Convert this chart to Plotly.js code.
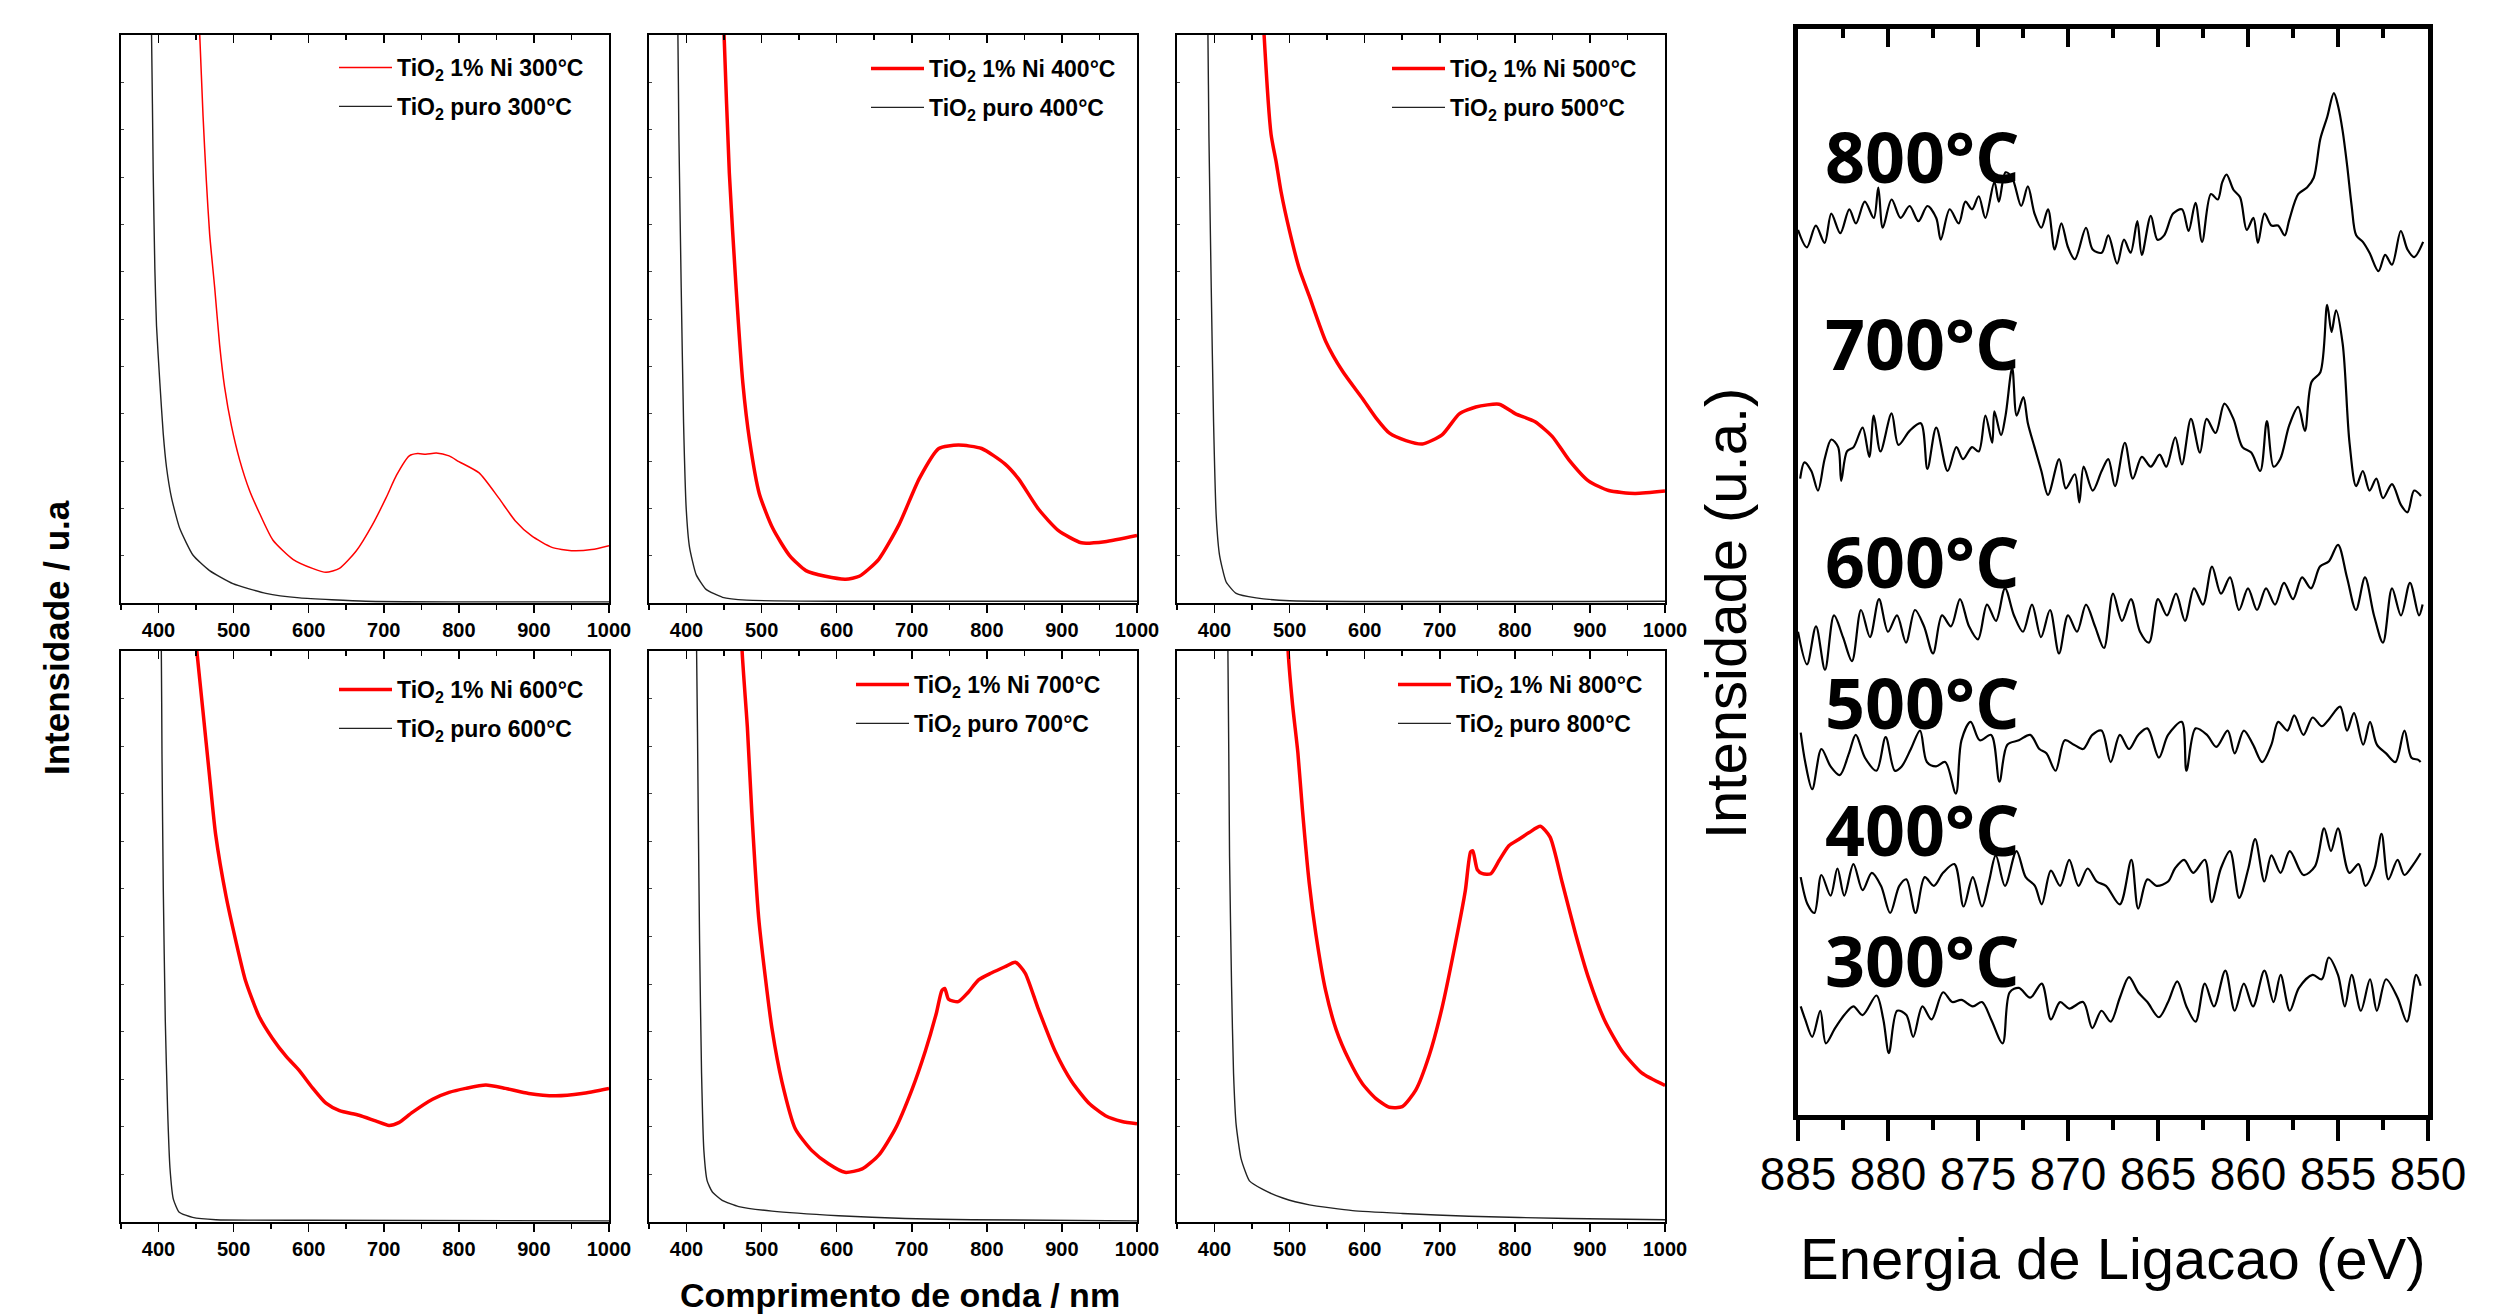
<!DOCTYPE html>
<html><head><meta charset="utf-8">
<script src="https://cdn.plot.ly/plotly-3.0.1.min.js"></script>
<style>html,body{margin:0;padding:0;background:#fff}#chart{width:2501px;height:1316px}</style>
</head><body><div id="chart"></div>
<script>
// ---------------- UV-Vis data (wavelength nm, intensity in % of panel height) ----------------
const wlNi300 = [448, 454.9, 459.3, 463.7, 468.1, 474.8, 481.4, 488, 496.9, 508, 521.2, 534.5, 552.2, 579, 605, 623, 641, 663, 685, 703, 717, 734, 745, 756, 770, 787, 800, 827, 853, 875, 897, 924, 950, 977, 1000];
const intNi300 = [120, 99.9, 85.7, 74.3, 64.9, 55.5, 45.4, 38, 31.3, 25.2, 19.8, 15.8, 11.1, 7.7, 6.1, 5.4, 6.1, 9.1, 13.8, 18.5, 22.5, 25.9, 26.3, 26.2, 26.4, 25.9, 24.9, 22.9, 18.5, 14.5, 11.8, 9.8, 9.2, 9.4, 10.1];
const wlPuro300 = [386, 390.7, 392.9, 395.1, 397.3, 401.8, 406.2, 410.6, 417.3, 428.3, 446, 468, 499, 543, 588, 676, 800, 1000];
const intPuro300 = [125, 99.9, 75.7, 58.8, 48.8, 38.7, 29.9, 23.9, 18.5, 13.1, 8.4, 5.7, 3.4, 1.7, 0.9, 0.3, 0.2, 0.2];

const wlNi400 = [443, 450, 457, 466, 475, 484, 497, 515, 537, 559, 585, 612, 630, 656, 683, 710, 736, 762, 793, 824, 842, 869, 895, 926, 957, 1000];
const intNi400 = [125, 100, 75.7, 55.5, 38.7, 28.6, 19.2, 13.1, 8.4, 5.7, 4.7, 4.2, 4.7, 7.7, 13.8, 21.9, 27.2, 27.8, 27.2, 24.5, 21.9, 16.5, 12.8, 10.6, 10.8, 11.9];
const wlPuro400 = [385, 388.5, 389.8, 392.9, 396, 399.6, 404, 412.8, 426, 448, 480, 600, 1000];
const intPuro400 = [125, 100, 82.4, 55.5, 31.9, 16.5, 9.8, 5.0, 2.4, 1.0, 0.5, 0.3, 0.3];

const wlNi500 = [460, 466, 475.3, 482, 488.6, 499.7, 513, 526, 548, 571, 597, 615, 633, 655, 677, 703, 726, 748, 779, 801, 827, 850, 872, 898, 925, 960, 1000];
const intNi500 = [118, 100, 82.5, 77.7, 72.4, 65.6, 58.8, 54.1, 46.1, 40.7, 36, 32.6, 29.9, 28.6, 28, 29.6, 33.3, 34.5, 35, 33.3, 31.9, 29.3, 25.2, 21.5, 19.8, 19.3, 19.7];
const wlPuro500 = [388, 391.2, 392.5, 395.6, 398.7, 402.3, 406.7, 415.5, 428.8, 455.4, 500, 1000];
const intPuro500 = [125, 100, 82.4, 55.5, 31.9, 15.1, 8.4, 3.7, 1.7, 0.9, 0.4, 0.3];

const wlNi600 = [440, 451, 459, 468, 476, 490, 503, 516, 534, 552, 570, 587, 605, 623, 641, 667, 689, 707, 720, 738, 765, 787, 809, 836, 862, 893, 929, 964, 1000];
const intNi600 = [115, 100, 89.7, 78, 67.9, 57, 49.2, 42.2, 36, 32.1, 29, 26.6, 23.5, 20.8, 19.5, 18.7, 17.7, 16.9, 17.4, 19.2, 21.5, 22.7, 23.4, 24, 23.4, 22.5, 22.1, 22.5, 23.4];
const wlPuro600 = [400, 403.7, 404.6, 406.3, 409, 412.1, 415.2, 419.7, 427.6, 445.4, 476.4, 600, 1000];
const intPuro600 = [125, 100, 81.9, 58.6, 35.2, 19.6, 9.5, 4.0, 1.7, 0.8, 0.4, 0.3, 0.2];

const wlNi700 = [468, 474, 481, 487, 496, 505, 514, 527, 545, 567, 589, 611, 634, 656, 678, 700, 718, 733, 740, 744, 749, 762, 775, 789, 806, 824, 838, 851, 868, 891, 913, 936, 958, 980, 1000];
const intNi700 = [125, 100, 86.7, 71.6, 53.4, 42.8, 33.7, 24.6, 16.3, 12.5, 10.2, 8.7, 9.3, 11.7, 16.3, 23.1, 29.9, 36.7, 40.5, 40.9, 39, 38.6, 40.2, 42.4, 43.6, 44.7, 45.5, 43.6, 37.5, 29.9, 24.6, 20.8, 18.6, 17.6, 17.2];
const wlPuro700 = [409, 413.4, 415.6, 417.4, 420, 423.1, 427.5, 434.2, 447.5, 469.6, 513.9, 602.5, 691.2, 779.8, 1000];
const intPuro700 = [125, 100, 71.6, 48.9, 26.1, 12.5, 7.2, 5.3, 3.8, 2.7, 1.9, 1.1, 0.6, 0.4, 0.2];

const wlNi800 = [492, 498, 504, 511, 517, 526, 535, 548, 562, 579, 597, 615, 633, 650, 668, 686, 703, 721, 734, 741, 744, 750, 757, 768, 779, 792, 805, 819, 834, 847, 863, 881, 898, 920, 943, 969, 1000];
const intNi800 = [125, 100, 90.5, 82.2, 72.3, 59.5, 50.4, 40.5, 33.7, 28.4, 24.2, 21.6, 20.1, 20.2, 23.1, 29.2, 37.5, 48.9, 58, 64.8, 65, 61.7, 61, 61, 63.3, 65.9, 67, 68.2, 69.3, 67.4, 59.5, 50.4, 42.8, 35.2, 29.9, 26.1, 23.9];
const wlPuro800 = [413, 417.8, 420, 422.7, 425.3, 428.8, 435.5, 446.5, 464.3, 490.9, 526.3, 583.9, 650.3, 738.9, 871.7, 1000];
const intPuro800 = [125, 100, 64, 41.3, 26.1, 17, 11, 7.2, 5.7, 4.2, 3.0, 2.0, 1.5, 1.0, 0.6, 0.4];

const uvTemps = ['300', '400', '500', '600', '700', '800'];
const uvTickVals = [400, 500, 600, 700, 800, 900, 1000];

// ---------------- XPS data (binding energy eV, stacked intensity in % of panel height) ----------------
const ev800 = [885.0, 884.51, 884.01, 883.52, 883.15, 882.65, 882.15, 881.78, 881.29, 880.79, 880.54, 880.29, 879.8, 879.3, 878.8, 878.31, 877.81, 877.32, 877.07, 876.57, 876.07, 875.7, 875.33, 874.96, 874.59, 874.09, 873.84, 873.47, 873.1, 872.6, 872.23, 871.86, 871.48, 871.11, 870.74, 870.37, 870.0, 869.62, 869.0, 868.63, 868.13, 867.76, 867.27, 866.89, 866.52, 866.15, 865.9, 865.4, 865.03, 864.66, 864.16, 863.67, 863.3, 862.92, 862.55, 862.06, 861.68, 861.43, 861.19, 860.81, 860.44, 860.07, 859.7, 859.45, 859.08, 858.7, 858.33, 857.96, 857.71, 857.21, 856.72, 856.35, 855.98, 855.6, 855.23, 854.98, 854.74, 854.49, 854.24, 853.99, 853.62, 853.25, 852.75, 852.38, 852.0, 851.51, 851.14, 850.77, 850.27];
const int800 = [81.5, 79.9, 81.9, 80.3, 83.0, 81.2, 83.4, 82.1, 84.1, 82.6, 85.4, 81.7, 84.3, 82.6, 83.7, 82.3, 83.7, 82.6, 80.6, 83.4, 82.1, 84.1, 83.4, 84.6, 82.6, 85.9, 84.1, 86.8, 86.3, 83.7, 85.5, 83.0, 81.7, 83.4, 79.7, 82.1, 79.9, 78.8, 81.7, 79.7, 79.4, 81.0, 78.4, 80.6, 79.4, 82.3, 79.2, 82.8, 80.6, 81.0, 83.0, 83.4, 81.4, 84.0, 80.4, 84.8, 84.3, 85.9, 86.6, 85.2, 84.5, 81.5, 82.6, 80.3, 83.0, 81.9, 81.9, 81.0, 82.4, 84.8, 85.4, 86.3, 89.9, 91.9, 94.1, 92.8, 90.6, 87.4, 83.7, 81.0, 80.4, 79.4, 77.7, 79.2, 78.3, 81.4, 79.7, 79.0, 80.4];

const ev700 = [884.88, 884.64, 884.26, 883.89, 883.52, 883.15, 882.77, 882.6, 882.28, 881.91, 881.41, 881.04, 880.79, 880.42, 879.8, 879.42, 878.8, 878.18, 877.81, 877.32, 876.69, 876.2, 875.83, 875.33, 874.96, 874.59, 874.21, 874.09, 873.72, 873.47, 873.1, 872.85, 872.48, 872.23, 871.86, 871.48, 871.11, 870.49, 870.12, 869.62, 869.37, 869.13, 868.63, 868.13, 867.76, 867.39, 866.84, 866.4, 865.9, 865.4, 864.91, 864.54, 864.04, 863.67, 863.17, 862.67, 862.3, 861.8, 861.31, 860.81, 860.31, 859.82, 859.32, 858.95, 858.58, 858.21, 857.71, 857.21, 856.84, 856.47, 855.98, 855.6, 855.36, 855.11, 854.74, 854.36, 853.99, 853.62, 853.25, 852.87, 852.5, 852.0, 851.51, 851.14, 850.77, 850.39];
const int700 = [58.6, 60.1, 59.3, 57.5, 60.4, 62.2, 61.5, 58.4, 61.1, 61.5, 63.3, 60.6, 64.4, 61.1, 64.6, 61.7, 63.0, 63.7, 59.5, 63.3, 59.3, 61.5, 60.4, 61.5, 61.1, 64.4, 61.9, 64.8, 62.6, 64.4, 68.8, 64.4, 66.1, 63.7, 61.5, 59.3, 57.1, 60.4, 57.7, 59.0, 56.4, 59.7, 57.5, 59.3, 60.4, 57.9, 61.9, 58.6, 60.6, 59.7, 60.8, 59.7, 62.4, 59.9, 64.1, 61.0, 64.1, 62.8, 65.5, 64.1, 61.5, 61.0, 59.3, 63.9, 59.7, 60.4, 63.5, 65.2, 63.0, 67.5, 68.4, 74.6, 72.1, 74.1, 71.0, 61.9, 57.9, 59.3, 57.5, 58.6, 56.8, 58.1, 56.2, 55.5, 57.5, 57.0];

const ev600 = [885.0, 884.5, 884.0, 883.5, 883.0, 882.5, 882.0, 881.5, 881.0, 880.5, 880.0, 879.5, 879.0, 878.5, 878.0, 877.5, 877.0, 876.5, 876.0, 875.5, 875.0, 874.5, 874.0, 873.5, 873.0, 872.5, 872.0, 871.5, 871.0, 870.5, 870.0, 869.5, 869.0, 868.5, 868.0, 867.5, 867.0, 866.5, 866.0, 865.5, 865.0, 864.5, 864.0, 863.5, 863.0, 862.5, 862.0, 861.5, 861.0, 860.5, 860.0, 859.5, 859.0, 858.5, 858.0, 857.5, 857.0, 856.5, 856.0, 855.5, 855.0, 854.5, 854.0, 853.5, 853.0, 852.5, 852.0, 851.5, 851.0, 850.5, 850.3];
const int600 = [44.5, 41.5, 45, 41, 46, 44, 41.8, 46.5, 44, 47.5, 44.5, 46, 43.5, 46.5, 45, 42.5, 46, 45, 47.5, 45, 43.8, 47, 45.5, 48.5, 46, 44.5, 47, 44, 46.5, 42.5, 46, 44.5, 47, 45, 43, 48, 45.5, 47.5, 44.5, 43.5, 47.5, 46, 48, 45.5, 48.5, 47, 50.5, 48, 49.5, 46.5, 48.5, 46.5, 48.5, 47, 49, 47.5, 49.5, 48.5, 50.5, 51, 52.5, 49.5, 46.5, 49.5, 46, 43.5, 48.5, 46, 49, 46, 47];

const ev500 = [884.85, 884.6, 884.21, 883.7, 883.19, 882.68, 882.17, 881.79, 881.28, 880.64, 880.13, 879.62, 879.24, 878.73, 878.22, 877.84, 877.33, 876.82, 876.23, 875.92, 875.41, 874.9, 874.27, 873.81, 873.37, 872.73, 872.1, 871.59, 871.2, 870.69, 870.18, 869.67, 869.16, 868.65, 868.14, 867.63, 867.12, 866.61, 866.1, 865.59, 864.95, 864.44, 863.68, 863.42, 862.91, 862.28, 861.76, 861.13, 860.74, 860.23, 859.72, 859.21, 858.7, 858.32, 857.81, 857.43, 856.92, 856.41, 855.9, 855.52, 854.88, 854.5, 854.11, 853.6, 853.22, 852.84, 852.33, 851.81, 851.31, 850.92, 850.54, 850.41];
const int500 = [35.2, 32.5, 30.0, 33.7, 32.1, 31.3, 33.3, 35, 32.9, 31.7, 34.8, 31.7, 32.1, 33.7, 35.4, 32.5, 32.1, 32.5, 29.6, 34.5, 36.2, 34.5, 35, 30.7, 34.1, 34.5, 35, 33.7, 33.3, 31.7, 34.5, 34.1, 33.7, 35, 35.4, 32.5, 35, 33.7, 35, 35.6, 32.9, 35, 36.2, 31.7, 35.6, 35, 33.9, 35.4, 33.3, 35.4, 34.1, 32.5, 34.1, 36.2, 35.4, 36.8, 35, 36.6, 35.8, 36.4, 37.6, 35.4, 37, 34.1, 36.2, 34.1, 33.3, 32.5, 35.4, 32.9, 32.7, 32.5];

const ev400 = [884.85, 884.47, 884.09, 883.7, 883.19, 882.81, 882.43, 881.92, 881.41, 880.9, 880.39, 879.88, 879.37, 878.98, 878.47, 877.96, 877.45, 876.94, 876.31, 875.8, 875.29, 874.78, 874.39, 874.01, 873.5, 872.86, 872.35, 871.84, 871.46, 870.95, 870.44, 869.93, 869.42, 868.91, 868.4, 867.89, 867.12, 866.48, 866.1, 865.59, 865.08, 864.44, 864.06, 863.55, 863.04, 862.4, 862.02, 861.51, 861.0, 860.49, 859.98, 859.6, 859.09, 858.7, 858.19, 857.68, 856.92, 856.28, 855.77, 855.39, 855.0, 854.37, 853.86, 853.48, 852.97, 852.58, 852.2, 851.69, 851.31, 850.8, 850.41];
const int400 = [21.9, 19.4, 18.6, 22.1, 20.2, 22.7, 20.2, 23.1, 20.7, 22.3, 21.1, 18.6, 21.1, 21.7, 18.6, 21.9, 21.1, 22.3, 23.1, 19.2, 21.9, 19.2, 21.5, 23.9, 21.1, 24.3, 21.9, 21.1, 19.4, 22.5, 21.1, 23.5, 21.1, 22.7, 21.5, 21.1, 19.4, 23.5, 19.0, 21.7, 21.1, 21.5, 22.7, 23.5, 22.3, 23.5, 19.6, 22.7, 24.3, 20.0, 22.7, 25.4, 21.5, 23.9, 22.3, 24.3, 22.1, 22.9, 26.4, 24.3, 26.4, 22.3, 23.1, 21.1, 22.7, 25.9, 21.7, 23.5, 22.1, 23.1, 24.1];

const ev300 = [884.85, 884.6, 884.21, 883.76, 883.45, 882.94, 882.43, 881.92, 881.41, 880.64, 880.26, 879.95, 879.49, 878.98, 878.6, 878.09, 877.58, 876.94, 876.43, 875.92, 875.29, 874.78, 874.27, 873.63, 873.24, 872.73, 872.1, 871.46, 870.95, 870.44, 869.93, 869.16, 868.65, 868.14, 867.63, 867.12, 866.61, 866.1, 865.59, 864.95, 864.44, 863.93, 863.42, 862.91, 862.4, 861.89, 861.26, 860.74, 860.23, 859.72, 859.09, 858.58, 858.19, 857.68, 857.17, 856.41, 855.9, 855.52, 855.0, 854.62, 854.24, 853.73, 853.22, 852.84, 852.33, 851.69, 851.17, 850.66, 850.41];
const int300 = [10.0, 8.8, 7.2, 9.6, 6.6, 8.0, 9.2, 10.0, 9.2, 11.0, 8.8, 5.7, 9.6, 9.2, 7.2, 10.0, 8.8, 11.3, 10.4, 10.6, 10.0, 10.4, 8.8, 6.6, 11.3, 11.7, 10.8, 12.1, 8.8, 10.4, 9.8, 10.4, 8.0, 9.6, 8.6, 10.8, 12.7, 11.3, 10.4, 9.0, 10.4, 12.3, 10.0, 8.6, 12.1, 10.0, 13.3, 9.6, 12.1, 10.0, 13.3, 10.4, 12.9, 9.6, 11.7, 12.9, 12.5, 14.5, 12.9, 10.0, 12.9, 9.6, 12.5, 9.6, 12.5, 10.8, 8.6, 12.9, 11.9];

const xpsLabels = ['800°C', '700°C', '600°C', '500°C', '400°C', '300°C'];
const xpsTickVals = [885, 880, 875, 870, 865, 860, 855, 850];

// ---------------- layout helpers ----------------
const W = 2501, H = 1316;
const fx = p => p / W, fy = p => 1 - p / H;
const ARIAL = 'Liberation Sans, Arial, Helvetica, sans-serif';

const uvData = [
  [wlNi300, intNi300, wlPuro300, intPuro300],
  [wlNi400, intNi400, wlPuro400, intPuro400],
  [wlNi500, intNi500, wlPuro500, intPuro500],
  [wlNi600, intNi600, wlPuro600, intPuro600],
  [wlNi700, intNi700, wlPuro700, intPuro700],
  [wlNi800, intNi800, wlPuro800, intPuro800]
];
// panel boxes in px: [left, top, right, bottom]; legend anchor px [lineStartX, row1Y]
const boxes = [[121,35,609,603],[649,35,1137,603],[1177,35,1665,603],[121,651,609,1222],[649,651,1137,1222],[1177,651,1665,1222]];
const legPos = [[339,67],[871,68],[1392,68],[339,689],[856,684],[1398,684]];
const redWidths = [1.5, 3.5, 3.5, 3.5, 3.5, 3.5];

const traces = [];
const layout = {
  width: W, height: H, margin: {l:0, r:0, t:0, b:0},
  paper_bgcolor: '#fff', plot_bgcolor: 'rgba(0,0,0,0)',
  showlegend: true, annotations: []
};

uvTemps.forEach((t, i) => {
  const n = i + 1;
  const xs = n === 1 ? '' : String(n);
  const legName = n === 1 ? 'legend' : 'legend' + n;
  const [wlR, yR, wlB, yB] = uvData[i];
  traces.push({
    x: wlR, y: yR, type: 'scatter', mode: 'lines', xaxis: 'x' + xs, yaxis: 'y' + xs,
    line: {color: '#ff0000', width: redWidths[i], shape: 'spline', smoothing: 0.6},
    name: 'TiO<sub>2</sub> 1% Ni ' + t + '°C', legend: legName, legendgroup: 'r' + t, hoverinfo: 'skip'
  });
  traces.push({
    x: wlB, y: yB, type: 'scatter', mode: 'lines', xaxis: 'x' + xs, yaxis: 'y' + xs,
    line: {color: '#222', width: 1.4, shape: 'spline', smoothing: 0.5},
    name: 'TiO<sub>2</sub> puro ' + t + '°C', legend: legName, legendgroup: 'b' + t, hoverinfo: 'skip'
  });
  const b = boxes[i];
  layout['xaxis' + xs] = {
    domain: [fx(b[0]), fx(b[2])], anchor: 'y' + xs, range: [350, 1000],
    tickvals: uvTickVals, ticks: 'outside', ticklen: 8, tickwidth: 1.5, tickcolor: '#000',
    minor: {dtick: 50, tick0: 0, ticks: 'outside', ticklen: 5, tickwidth: 1.5, tickcolor: '#000'},
    showline: true, linewidth: 2, linecolor: '#000', mirror: true,
    showgrid: false, zeroline: false, fixedrange: true,
    tickfont: {family: ARIAL, size: 20, color: '#000', weight: 'bold'}
  };
  layout['yaxis' + xs] = {
    domain: [fy(b[3]), fy(b[1])], anchor: 'x' + xs, range: [0, 100],
    showline: true, linewidth: 2, linecolor: '#000', mirror: true,
    ticks: 'inside', ticklen: 3, tickwidth: 1, tickcolor: '#444', tick0: 0, dtick: 100/12,
    showticklabels: false, showgrid: false, zeroline: false, fixedrange: true
  };
  // top axis with inward ticks
  const tn = String(n + 7);
  layout['xaxis' + tn] = {
    overlaying: 'x' + xs, anchor: 'y' + xs, side: 'top', range: [350, 1000],
    tickvals: uvTickVals, ticks: 'inside', ticklen: 8, tickwidth: 1.5, tickcolor: '#000',
    minor: {dtick: 50, tick0: 0, ticks: 'inside', ticklen: 5, tickwidth: 1.5, tickcolor: '#000'},
    showticklabels: false, showline: false, showgrid: false, zeroline: false, fixedrange: true
  };
  traces.push({x: [], y: [], xaxis: 'x' + tn, yaxis: 'y' + xs, type: 'scatter', showlegend: false, hoverinfo: 'skip'});
  const lp = legPos[i];
  layout[legName] = {
    x: fx(lp[0] - 5), y: fy(lp[1] - 21), xanchor: 'left', yanchor: 'top',
    bgcolor: 'rgba(0,0,0,0)', borderwidth: 0, itemwidth: 53, tracegroupgap: 6,
    font: {family: ARIAL, size: 23, color: '#000', weight: 'bold'}
  };
});

// XPS panel
const xpsSeries = [[ev800, int800], [ev700, int700], [ev600, int600], [ev500, int500], [ev400, int400], [ev300, int300]];
xpsSeries.forEach(([ev, it]) => {
  traces.push({x: ev, y: it, type: 'scatter', mode: 'lines', xaxis: 'x7', yaxis: 'y7',
    line: {color: '#000', width: 2.2, shape: 'spline', smoothing: 0.9}, showlegend: false, hoverinfo: 'skip'});
});
layout.xaxis7 = {
  domain: [fx(1798), fx(2428)], anchor: 'y7', range: [885, 850],
  tickvals: xpsTickVals, ticks: 'outside', ticklen: 21, tickwidth: 4, tickcolor: '#000',
  minor: {dtick: 2.5, tick0: 850, ticks: 'outside', ticklen: 10, tickwidth: 4, tickcolor: '#000'},
  showline: true, linewidth: 5, linecolor: '#000', mirror: true,
  showgrid: false, zeroline: false, fixedrange: true, ticklabelstandoff: -6,
  tickfont: {family: ARIAL, size: 46, color: '#000'}
};
layout.yaxis7 = {
  domain: [fy(1115), fy(29)], anchor: 'x7', range: [0, 100],
  showline: true, linewidth: 5, linecolor: '#000', mirror: true,
  ticks: '', showticklabels: false, showgrid: false, zeroline: false, fixedrange: true
};
layout.xaxis14 = {
  overlaying: 'x7', anchor: 'y7', side: 'top', range: [885, 850],
  tickvals: xpsTickVals, ticks: 'inside', ticklen: 18, tickwidth: 4, tickcolor: '#000',
  minor: {dtick: 2.5, tick0: 850, ticks: 'inside', ticklen: 9, tickwidth: 4, tickcolor: '#000'},
  showticklabels: false, showline: false, showgrid: false, zeroline: false, fixedrange: true
};
traces.push({x: [], y: [], xaxis: 'x14', yaxis: 'y7', type: 'scatter', showlegend: false, hoverinfo: 'skip'});

const xpsLabelY = [88.3, 71.1, 51.0, 38.0, 26.3, 14.3];
xpsLabels.forEach((txt, k) => {
  layout.annotations.push({xref: 'x7', yref: 'y7', x: 883.6, y: xpsLabelY[k], xanchor: 'left', yanchor: 'middle',
    text: txt, showarrow: false, font: {family: 'Open Sans, Noto Sans, sans-serif', size: 70, color: '#000', weight: 'bold'}});
});

// axis titles
layout.annotations.push({xref: 'paper', yref: 'paper', x: fx(900), y: fy(1295), xanchor: 'center', yanchor: 'middle',
  text: 'Comprimento de onda / nm', showarrow: false, font: {family: ARIAL, size: 34, color: '#000', weight: 'bold'}});
layout.annotations.push({xref: 'paper', yref: 'paper', x: fx(56), y: fy(638), xanchor: 'center', yanchor: 'middle', textangle: -90,
  text: 'Intensidade / u.a', showarrow: false, font: {family: ARIAL, size: 35, color: '#000', weight: 'bold'}});
layout.annotations.push({xref: 'paper', yref: 'paper', x: fx(2113), y: fy(1258), xanchor: 'center', yanchor: 'middle',
  text: 'Energia de Ligacao (eV)', showarrow: false, font: {family: ARIAL, size: 58, color: '#000'}});
layout.annotations.push({xref: 'paper', yref: 'paper', x: fx(1725), y: fy(614), xanchor: 'center', yanchor: 'middle', textangle: -90,
  text: 'Intensidade (u.a.)', showarrow: false, font: {family: ARIAL, size: 58, color: '#000'}});

Plotly.newPlot('chart', traces, layout, {displayModeBar: false, staticPlot: true});
</script></body></html>
